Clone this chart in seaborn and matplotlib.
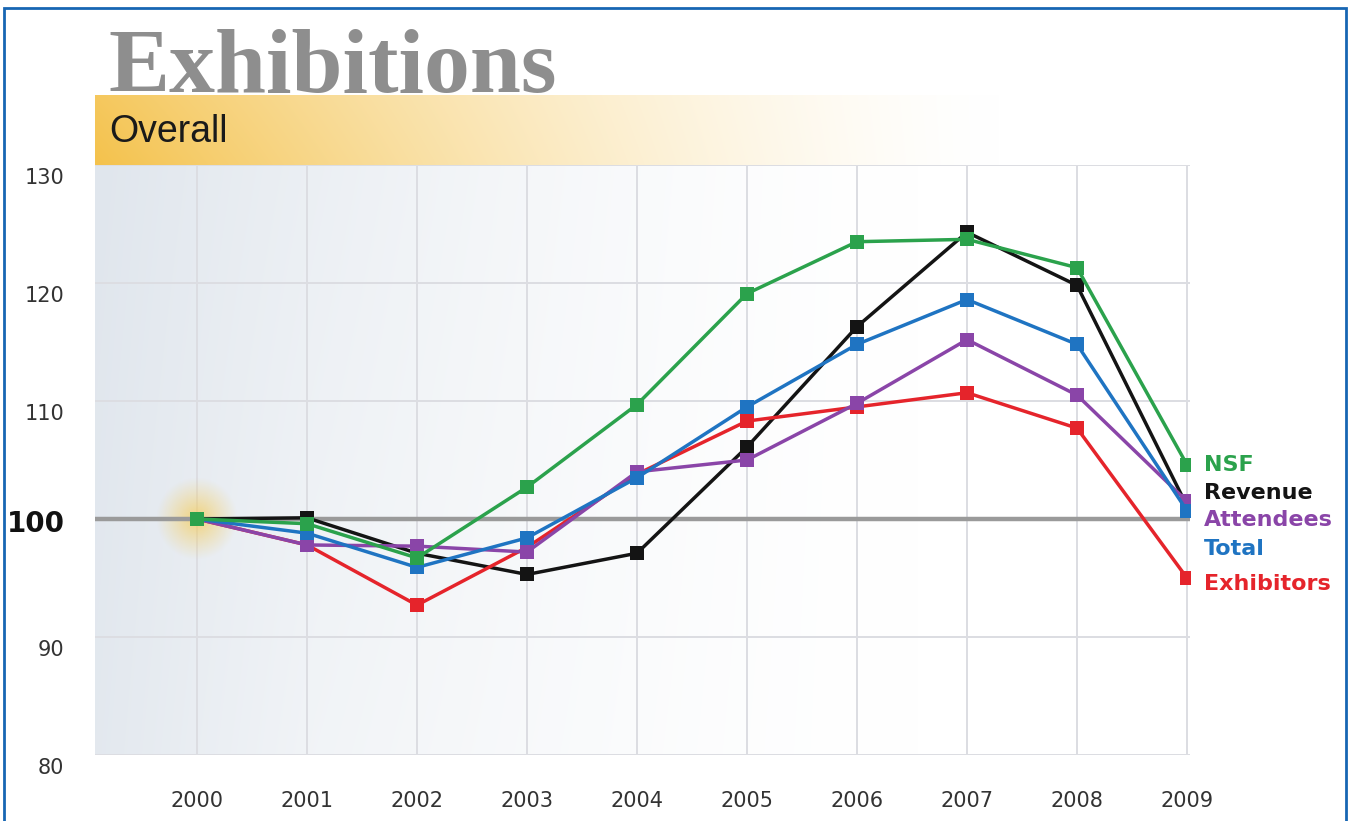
import numpy as np
import pandas as pd
import matplotlib
matplotlib.use("Agg")
import matplotlib.pyplot as plt
from matplotlib.colors import to_rgb
from matplotlib.transforms import ScaledTranslation
from matplotlib.patches import Rectangle
import seaborn as sns

# ---- data -------------------------------------------------------------
years = [2000, 2001, 2002, 2003, 2004, 2005, 2006, 2007, 2008, 2009]
nsf = [100, 99.6, 96.7, 102.7, 109.7, 119.1, 123.5, 123.7, 121.3, 104.6]
revenue = [100, 100.1, 97.1, 95.3, 97.1, 106.1, 116.3, 124.3, 119.8, 101.1]
attendees = [100, 97.8, 97.7, 97.2, 104.0, 105.0, 109.8, 115.2, 110.5, 101.5]
total = [100, 98.8, 95.9, 98.4, 103.5, 109.5, 114.8, 118.6, 114.8, 100.7]
exhibitors = [100, 97.8, 92.7, 97.6, 103.8, 108.3, 109.5, 110.7, 107.7, 95.0]

series_names = ["NSF", "Revenue", "Attendees", "Total", "Exhibitors"]
y_ticks = [80, 90, 100, 110, 120, 130]
title = "Exhibitions"
subtitle = "Overall"

colors = {
    "NSF": "#2ba24c",
    "Revenue": "#141414",
    "Attendees": "#8a45a8",
    "Total": "#1f74c2",
    "Exhibitors": "#e5242b",
}
# right-hand series labels (y position in index units)
label_y = {"NSF": 104.6, "Revenue": 102.2, "Attendees": 99.9,
           "Total": 97.5, "Exhibitors": 94.5}

df = pd.DataFrame({
    "Year": years * 5,
    "Index": nsf + revenue + attendees + total + exhibitors,
    "Series": sum([[n] * len(years) for n in series_names], []),
})

# ---- figure -----------------------------------------------------------
W, H = 1349, 821
fig = plt.figure(figsize=(W / 100, H / 100), dpi=100)
fig.patch.set_facecolor("white")

def fx(px):
    return px / W

def fy(py):
    return 1 - py / H

# plot area
x0, x1, ytop, ybot = 95, 1190, 165, 755
ax = fig.add_axes([fx(x0), fy(ybot), fx(x1 - x0), (ybot - ytop) / H])
xlim = (2000 - 102 / 110, 2009 + 3 / 110)
ylim = (80, 130)

# soft blue-grey backdrop fading to white on the right
gx = np.linspace(0, 1, 400)
gy = np.linspace(0, 1, 300)
GX, GY = np.meshgrid(gx, gy)
w = np.clip(1 - GX / 0.75, 0, 1) ** 1.5 * (0.7 + 0.3 * GY)
w = np.clip(w + 0.2 * np.clip(1 - GX / 0.2, 0, 1) * (1 - GY), 0, 1)
base = np.array(to_rgb("#e0e6ed"))
img = 1 - w[..., None] * (1 - base[None, None, :])
ax.imshow(img, extent=(xlim[0], xlim[1], ylim[0], ylim[1]), origin="lower",
          aspect="auto", zorder=0, interpolation="bilinear")

# yellow glow at the base point
r = np.linspace(-1, 1, 200)
RX, RY = np.meshgrid(r, r)
rad = np.sqrt(RX ** 2 + RY ** 2)
glow = np.zeros((200, 200, 4))
glow[..., :3] = to_rgb("#f5cb55")
glow[..., 3] = np.clip(1 - rad, 0, 1) ** 1.1 * 0.75
ax.imshow(glow, extent=(2000 - 0.37, 2000 + 0.37, 100 - 3.5, 100 + 3.5),
          origin="lower", aspect="auto", zorder=1, interpolation="bilinear")

ax.set_xlim(*xlim)
ax.set_ylim(*ylim)
ax.set_axisbelow(True)
ax.grid(True, color="#dcdde2", linewidth=1.4)
ax.axhline(100, color="#9a9a9a", linewidth=3.2, zorder=1.5)

draw_order = ["Revenue", "Exhibitors", "Attendees", "Total", "NSF"]
sns.lineplot(data=df, x="Year", y="Index", hue="Series", hue_order=draw_order,
             palette=colors, marker="s", markersize=9.5, markeredgewidth=0,
             linewidth=2.5, legend=False, ax=ax, zorder=3)

for s in ax.spines.values():
    s.set_visible(False)
ax.set_xlabel("")
ax.set_ylabel("")
ax.set_xticks(years)
ax.set_xticklabels([str(y) for y in years], fontsize=15, color="#333333",
                   family="DejaVu Sans")
ax.set_yticks(y_ticks)
ax.set_yticklabels([str(t) for t in y_ticks], fontsize=15, color="#333333",
                   family="DejaVu Sans")
ax.tick_params(axis="both", length=0)
ax.tick_params(axis="x", pad=26)
ax.tick_params(axis="y", pad=22)
for t, lab in zip(y_ticks, ax.get_yticklabels()):
    if t == 100:
        lab.set_fontsize(20)
        lab.set_fontweight("bold")
        lab.set_color("#111111")
        lab.set_transform(lab.get_transform()
                          + ScaledTranslation(0, -2 / 100, fig.dpi_scale_trans))
    else:
        lab.set_transform(lab.get_transform()
                          + ScaledTranslation(0, -11 / 100, fig.dpi_scale_trans))

# series labels at the right end
for name in series_names:
    ax.text(2009 + 17 / 110, label_y[name], name, color=colors[name],
            fontsize=16, fontweight="bold", family="DejaVu Sans",
            va="center", ha="left", clip_on=False)

# header band with golden gradient
hax = fig.add_axes([fx(95), fy(165), fx(1000 - 95), 70 / H])
hx = np.linspace(0, 1, 500)
hy = np.linspace(0, 1, 60)
HX, HY = np.meshgrid(hx, hy)
hw = np.clip(1 - HX, 0, 1) ** 1.5 * (0.9 + 0.1 * (1 - HY))
gold = np.array(to_rgb("#f4c24c"))
band = 1 - hw[..., None] * (1 - gold[None, None, :])
hax.imshow(band, extent=(0, 1, 0, 1), origin="lower", aspect="auto",
           interpolation="bilinear")
hax.set_axis_off()

fig.text(fx(108), fy(92), title, fontsize=66, fontweight="bold",
         family="Liberation Serif", color="#8e8e8e", va="baseline", ha="left")
fig.text(fx(109), fy(142), subtitle, fontsize=27, family="Liberation Sans",
         color="#1a1a1a", va="baseline", ha="left")

# thin blue frame
frame = Rectangle((fx(4), -0.05), fx(1346 - 4), fy(8) + 0.05,
                  transform=fig.transFigure, fill=False,
                  edgecolor="#1766b3", linewidth=2)
fig.patches.append(frame)

fig.savefig("out.png", dpi=100, facecolor="white")
